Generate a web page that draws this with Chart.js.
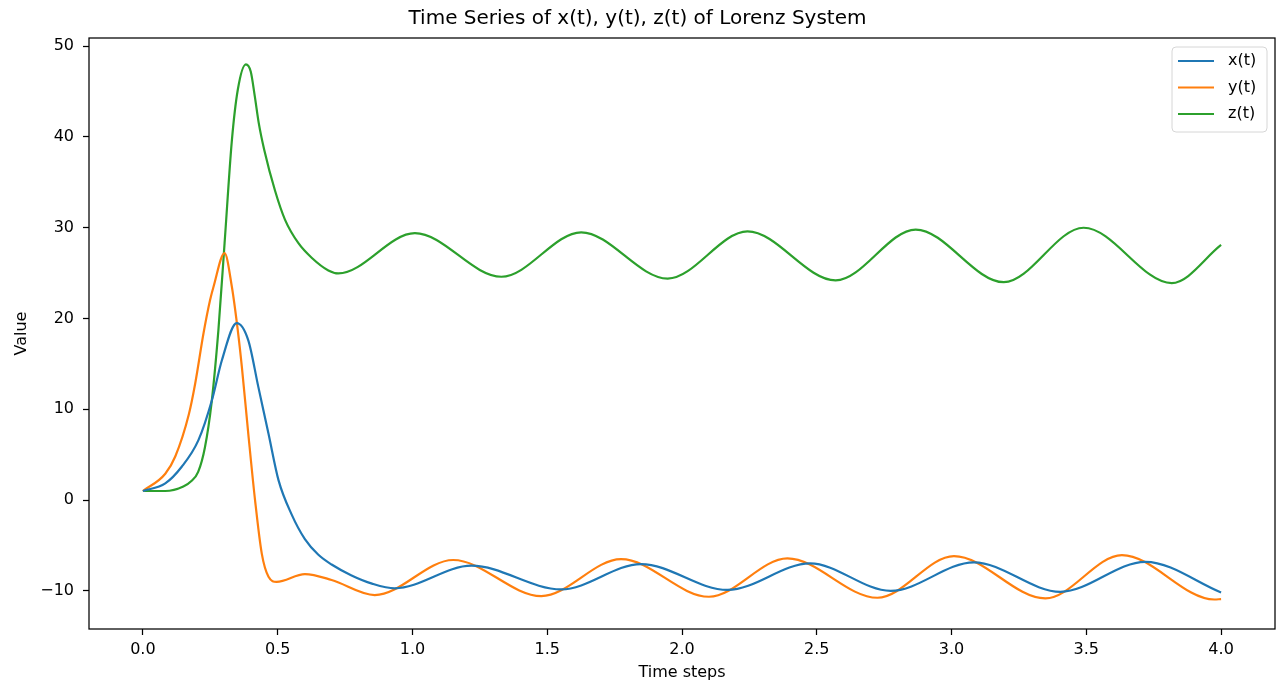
<!DOCTYPE html>
<html>
<head>
<meta charset="utf-8">
<script src="https://cdn.jsdelivr.net/npm/chart.js@4.4.1/dist/chart.umd.min.js"></script>
<style>
  html, body { margin: 0; padding: 0; background: #fff; }
</style>
</head>
<body>
<canvas id="lorenz" width="1276" height="688"></canvas>
<script>
// values (time, value)
var timeX = [0, 0.083, 0.144, 0.206, 0.256, 0.293, 0.348, 0.391, 0.428, 0.466, 0.503, 0.552, 0.601, 0.65, 0.7, 0.774, 0.85, 0.934, 1.219, 1.552, 1.848, 2.169, 2.475, 2.774, 3.083, 3.404, 3.719, 4.0];
var valuesX = [1.0, 1.84, 3.67, 6.6, 11.0, 15.4, 19.5, 17.6, 12.5, 7.3, 2.2, -1.6, -4.3, -6.0, -7.1, -8.3, -9.2, -9.72, -7.23, -9.84, -7.05, -9.9, -6.97, -10.0, -6.86, -10.1, -6.8, -10.17];

var timeY = [0, 0.083, 0.12, 0.17, 0.194, 0.225, 0.249, 0.262, 0.303, 0.33, 0.352, 0.367, 0.391, 0.416, 0.441, 0.466, 0.496, 0.601, 0.7, 0.86, 1.151, 1.478, 1.774, 2.1, 2.391, 2.725, 3.009, 3.348, 3.632, 3.975, 4.0];
var valuesY = [1.0, 2.9, 4.8, 9.4, 12.85, 18.4, 22.0, 23.5, 27.2, 23.5, 18.7, 14.7, 7.3, 0, -5.9, -8.45, -9.0, -8.15, -8.8, -10.46, -6.6, -10.57, -6.5, -10.65, -6.42, -10.76, -6.17, -10.83, -6.06, -10.95, -10.9];

var timeZ = [0, 0.083, 0.15, 0.18, 0.205, 0.23, 0.255, 0.28, 0.303, 0.33, 0.352, 0.382, 0.4, 0.415, 0.43, 0.45, 0.49, 0.527, 0.577, 0.626, 0.688, 0.725, 1.009, 1.33, 1.626, 1.947, 2.243, 2.57, 2.867, 3.194, 3.49, 3.817, 4.0];
var valuesZ = [1.0, 1.0, 1.5, 2.1, 3.1, 5.8, 10.8, 18.7, 28.3, 39.6, 45.2, 48.0, 47.2, 44.5, 41.5, 38.6, 34.1, 30.9, 28.3, 26.7, 25.3, 24.97, 29.4, 24.6, 29.5, 24.4, 29.6, 24.2, 29.8, 24.0, 30.0, 23.9, 28.1];

var seriesLabels = ['x(t)', 'y(t)', 'z(t)'];
var seriesColors = ['#1f77b4', '#ff7f0e', '#2ca02c'];

function toPoints(ts, vs) {
  return ts.map(function (t, i) { return {x: t, y: vs[i]}; });
}

Chart.defaults.font.family = "'DejaVu Sans', sans-serif";
Chart.defaults.color = '#000';

// axes box + matplotlib-like legend in the upper right corner
var framePlugin = {
  id: 'frame',
  afterDraw: function (chart) {
    var ctx = chart.ctx;
    var a = chart.chartArea;
    ctx.save();
    ctx.strokeStyle = '#000';
    ctx.lineWidth = 1.25;
    ctx.strokeRect(a.left, a.top, a.right - a.left, a.bottom - a.top);

    var bx = a.right - 103, by = a.top + 9, bw = 95, bh = 85;
    ctx.beginPath();
    ctx.roundRect(bx, by, bw, bh, 4);
    ctx.fillStyle = 'rgba(255,255,255,0.8)';
    ctx.fill();
    ctx.strokeStyle = '#d6d6d6';
    ctx.lineWidth = 1;
    ctx.stroke();

    ctx.font = "16px 'DejaVu Sans'";
    ctx.textBaseline = 'middle';
    ctx.textAlign = 'left';
    chart.data.datasets.forEach(function (ds, i) {
      var y = by + 14 + i * 26.5;
      ctx.beginPath();
      ctx.moveTo(bx + 6, y);
      ctx.lineTo(bx + 42, y);
      ctx.strokeStyle = ds.borderColor;
      ctx.lineWidth = 2.2;
      ctx.stroke();
      ctx.fillStyle = '#000';
      ctx.fillText(ds.label, bx + 56, y);
    });
    ctx.restore();
  }
};

var lorenz = document.getElementById('lorenz');
new Chart(lorenz, {
  type: 'line',
  data: {
    datasets: [
      {label: seriesLabels[0], data: toPoints(timeX, valuesX), borderColor: seriesColors[0]},
      {label: seriesLabels[1], data: toPoints(timeY, valuesY), borderColor: seriesColors[1]},
      {label: seriesLabels[2], data: toPoints(timeZ, valuesZ), borderColor: seriesColors[2]}
    ]
  },
  options: {
    responsive: false,
    animation: false,
    layout: {padding: {left: 0, right: 1, top: 0, bottom: 0}},
    elements: {
      point: {radius: 0},
      line: {borderWidth: 2.2, cubicInterpolationMode: 'monotone', fill: false}
    },
    plugins: {
      legend: {display: false},
      tooltip: {enabled: false},
      title: {
        display: true,
        text: 'Time Series of x(t), y(t), z(t) of Lorenz System',
        font: {size: 20, weight: 'normal'},
        color: '#000',
        padding: {top: 7, bottom: 7}
      }
    },
    scales: {
      x: {
        type: 'linear',
        min: -0.2,
        max: 4.2,
        border: {display: false},
        grid: {drawOnChartArea: false, drawTicks: true, tickLength: 6, tickColor: '#000', tickWidth: 1.25},
        ticks: {
          stepSize: 0.5,
          includeBounds: false,
          padding: 5,
          font: {size: 16},
          maxRotation: 0,
          callback: function (v) { return v.toFixed(1); }
        },
        title: {display: true, text: 'Time steps', font: {size: 16}, padding: {top: 0, bottom: 6}},
        afterFit: function (s) { s.height = 59; }
      },
      y: {
        type: 'linear',
        min: -14.2,
        max: 50.9,
        border: {display: false},
        grid: {drawOnChartArea: false, drawTicks: true, tickLength: 6, tickColor: '#000', tickWidth: 1.25},
        ticks: {
          stepSize: 10,
          includeBounds: false,
          padding: 9,
          font: {size: 16},
          callback: function (v) { return v < 0 ? '\u2212' + Math.abs(v) : String(v); }
        },
        title: {display: true, text: 'Value', font: {size: 16}, padding: {top: 12, bottom: 0}},
        afterFit: function (s) { s.width = 89; }
      }
    }
  },
  plugins: [framePlugin]
});
</script>
</body>
</html>
